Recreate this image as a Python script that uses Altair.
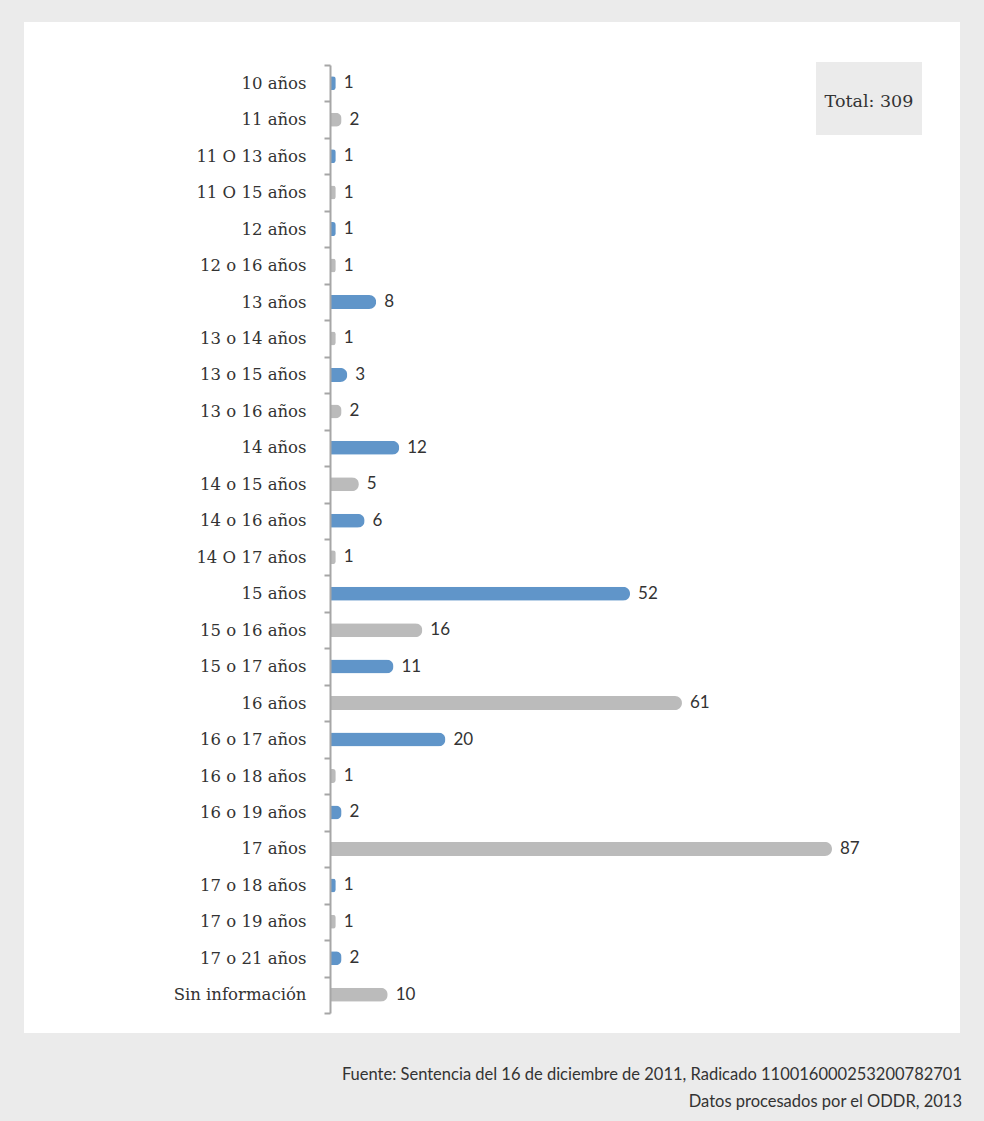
import altair as alt
import pandas as pd

categorias = ["10 años", "11 años", "11 O 13 años", "11 O 15 años", "12 años",
              "12 o 16 años", "13 años", "13  o 14 años", "13 o 15 años", "13 o 16 años",
              "14 años", "14 o 15 años", "14 o 16 años", "14 O 17 años", "15 años",
              "15 o 16 años", "15 o 17 años", "16 años", "16 o 17 años", "16 o 18 años",
              "16 o 19 años", "17 años", "17 o 18 años", "17 o 19 años", "17 o 21 años",
              "Sin información"]
valores = [1, 2, 1, 1, 1, 1, 8, 1, 3, 2, 12, 5, 6, 1, 52, 16, 11, 61, 20, 1, 2, 87, 1, 1, 2, 10]
grupos = ["azul", "gris"] * 13
fuente_1 = "Fuente: Sentencia del 16 de diciembre de 2011, Radicado 110016000253200782701"
fuente_2 = "Datos procesados por el ODDR, 2013"
total_txt = f"Total: {sum(valores)}"

df = pd.DataFrame({"categoria": categorias, "valor": valores, "grupo": grupos})
one = alt.Data(values=[{"k": 1}])

W, H = 577, 948
LEFT, TOP = 330, 65

y_enc = alt.Y("categoria:N", sort=categorias,
              scale=alt.Scale(paddingInner=0, paddingOuter=0),
              axis=alt.Axis(title=None, labelFont="DejaVu Serif", labelFontSize=16.5,
                            labelColor="#333333", labelPadding=18, tickSize=6,
                            tickColor="#a6a6a6", tickWidth=2, domainColor="#a6a6a6",
                            domainWidth=2, tickBand="extent", zindex=1, labelLimit=400))
x_enc = alt.X("valor:Q", scale=alt.Scale(domain=[0, 100]), axis=None)

panel = alt.Chart(one).mark_rect(fill="white").encode(
    x=alt.value(24 - LEFT), x2=alt.value(960 - LEFT),
    y=alt.value(22 - TOP), y2=alt.value(1033 - TOP))

bars = alt.Chart(df).mark_bar(size=14, cornerRadiusEnd=7).encode(
    y=y_enc, x=x_enc,
    color=alt.Color("grupo:N", scale=alt.Scale(domain=["azul", "gris"],
                                               range=["#6095c9", "#bbbbbb"]), legend=None))

labels = alt.Chart(df).mark_text(align="left", baseline="middle", dx=8, font="Lato",
                                  fontSize=17, color="#333333").encode(
    y=y_enc, x=x_enc, text="valor:Q")

box = alt.Chart(one).mark_rect(fill="#ebebeb").encode(
    x=alt.value(816 - LEFT), x2=alt.value(922 - LEFT),
    y=alt.value(62 - TOP), y2=alt.value(135 - TOP))
box_text = alt.Chart(one).mark_text(text=total_txt, align="center", baseline="middle",
                                    font="DejaVu Serif", fontSize=17.5, color="#333333").encode(
    x=alt.value(869 - LEFT), y=alt.value(102 - TOP))

foot1 = alt.Chart(one).mark_text(text=fuente_1, align="right", baseline="middle",
                                 font="Lato", fontSize=16.5, color="#333333").encode(
    x=alt.value(962 - LEFT), y=alt.value(1075 - TOP))
foot2 = alt.Chart(one).mark_text(text=fuente_2, align="right", baseline="middle",
                                 font="Lato", fontSize=16.5, color="#333333").encode(
    x=alt.value(962 - LEFT), y=alt.value(1102 - TOP))

chart = alt.layer(panel, bars, labels, box, box_text, foot1, foot2).properties(
    width=W, height=H, autosize="none",
    padding={"left": LEFT, "top": TOP, "right": 984 - LEFT - W, "bottom": 1121 - TOP - H},
    background="#ebebeb",
).configure_view(stroke=None)

chart.save("out.html", embed_options={"renderer": "svg", "actions": False})
